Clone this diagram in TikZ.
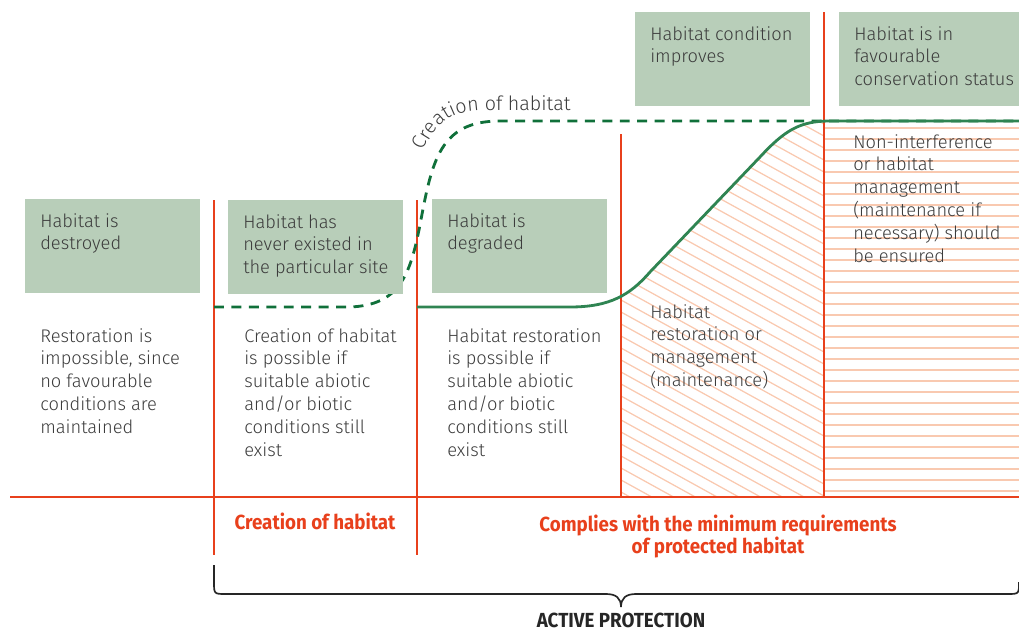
\documentclass[tikz,border=0pt]{standalone}
\usepackage{fontspec}
\setmainfont{Fira Sans Light}
\newfontfamily\labfont{Fira Sans}[FakeStretch=0.92]
\usepackage{tikz}
\usetikzlibrary{decorations.text}

\definecolor{boxgreen}{HTML}{B8CEB9}
\definecolor{linegreen}{HTML}{2F8452}
\definecolor{dashgreen}{HTML}{10703A}
\definecolor{redline}{HTML}{E8401C}
\definecolor{hatchred}{HTML}{F9C9B0}
\definecolor{txtgray}{HTML}{3C3C3C}

\newcommand\bodysize{\fontsize{13}{16.3}\selectfont}
\newcommand\statetext[2][3.625cm]{\parbox[c][1.65cm][t]{#1}{\raggedright #2}}

\tikzset{
  state/.style={fill=boxgreen, anchor=north west, inner xsep=0.375cm, inner ysep=0.35cm},
  note/.style={anchor=north west, inner sep=0pt, align=left},
  lab/.style={text=redline, align=center, font=\labfont\bfseries\fontsize{14.5}{15.6}\selectfont},
  border/.style={redline, line width=1.2pt},
  hatchline/.style={hatchred, line width=0.9pt},
}

\begin{document}
\begin{tikzpicture}[x=0.025cm, y=-0.025cm, font=\bodysize, text=txtgray]
  \useasboundingbox (0,0) rectangle (1019,631);

  % hatching below the rising curve and after it
  \begin{scope}
    \clip (621,0) rectangle (824,497);
    \clip (570,307) .. controls (610,307) and (630,295) .. (650,272) -- (760,157)
      .. controls (785,130) and (800,121) .. (830,121) -- (830,497) -- (570,497) -- cycle;
    \foreach \y in {-120,-108,...,500}
      \draw[hatchline] (621,\y) -- ++(203,112);
  \end{scope}
  \foreach \y in {128,139,...,494}
    \draw[hatchline] (824,\y) -- (1019,\y);

  % frame lines
  \draw[border] (10,497) -- (1019,497);
  \draw[border] (214,200) -- (214,555);
  \draw[border] (417,200) -- (417,555);
  \draw[border] (621,134) -- (621,497);
  \draw[border] (824,12) -- (824,497);

  % habitat curves
  \draw[dashgreen, line width=2pt, dash pattern=on 7.1pt off 5.3pt]
    (214,307) -- (350,307) .. controls (400,305) and (410,275) .. (420,225)
    .. controls (432,160) and (440,121) .. (500,121) -- (1019,121);
  \draw[linegreen, line width=2pt]
    (417,307) -- (570,307) .. controls (610,307) and (630,295) .. (650,272) -- (760,157)
    .. controls (785,130) and (800,121) .. (830,121) -- (1019,121);
  \path[decorate, decoration={text along path,
      text={|\fontsize{14}{16}\selectfont\color{txtgray}|Creation of habitat}}]
    (423,151) .. controls (440,117) and (455,110) .. (490,110) -- (620,110);

  % states
  \node[state] (destroyed) at (25,199) {\statetext{Habitat is\\destroyed}};
  \node[state] (never) at (228,200) {\statetext{Habitat has\\never existed in\\the particular site}};
  \node[state] (degraded) at (432,199) {\statetext{Habitat is\\degraded}};
  \node[state] (improves) at (635,12) {\statetext{Habitat condition\\improves}};
  \node[state] (favourable) at (839,12) {\statetext[4.2cm]{Habitat is in\\favourable\\conservation status}};

  % descriptions
  \node[note] (impossible) at (40,328) {Restoration is\\impossible, since\\no favourable\\conditions are\\maintained};
  \node[note] (creation) at (244,328) {Creation of habitat\\is possible if\\suitable abiotic\\and/or biotic\\conditions still\\exist};
  \node[note] (restoration) at (447,328) {Habitat restoration\\is possible if\\suitable abiotic\\and/or biotic\\conditions still\\exist};
  \node[note] (management) at (650,304) {Habitat\\restoration or\\management\\(maintenance)};
  \node[note] (noninterference) at (853,134) {Non-interference\\or habitat\\management\\(maintenance if\\necessary) should\\be ensured};

  % phases
  \node[lab] (creationlab) at (315,521) {Creation of habitat};
  \node[lab, anchor=north] (complies) at (718,510) {Complies with the minimum requirements\\of protected habitat};

  \draw[line width=1.2pt, black!85]
    (214,565) -- (214,582) .. controls (214,594) .. (226,594) -- (606,594)
    .. controls (616,594) and (621,598) .. (621,607)
    .. controls (621,598) and (626,594) .. (636,594) -- (1007,594)
    .. controls (1019,594) .. (1019,582);
  \node[lab, text=black!85, inner sep=0.5pt] (active) at (621,620) {ACTIVE PROTECTION};
\end{tikzpicture}
\end{document}
